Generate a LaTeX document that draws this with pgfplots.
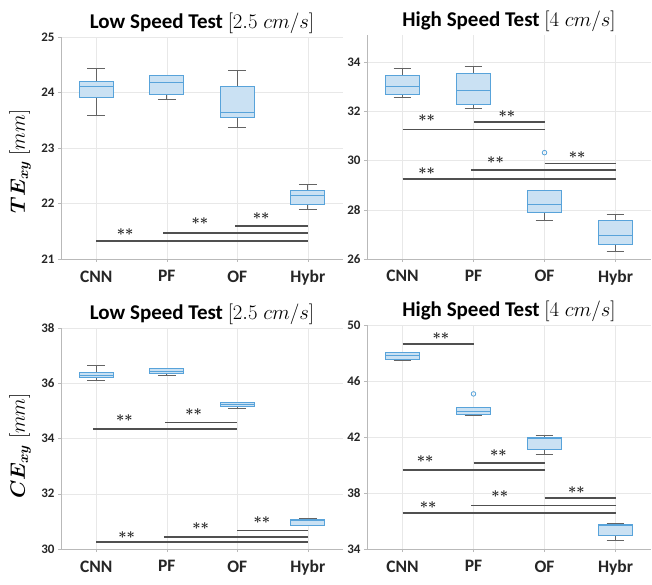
\documentclass[border=0pt]{standalone}
\usepackage{pgfplots}
\pgfplotsset{compat=1.18}
\usepgfplotslibrary{statistics}
\usepackage{bm}
\usepackage{fontspec}
\setmainfont{Carlito}
\definecolor{boxfill}{RGB}{202,225,243}
\definecolor{boxedge}{RGB}{88,163,218}
\definecolor{whisk}{RGB}{100,100,100}
\definecolor{sigc}{RGB}{80,80,80}
\definecolor{txt}{RGB}{38,38,38}
\pgfplotsset{
  myax/.style={
    scale only axis, anchor=north west,
    xmin=0.5, xmax=4.5, xtick={1,2,3,4}, xticklabels={CNN,PF,OF,Hybr},
    grid=major, grid style={gray!18, line width=0.5pt},
    axis x line*=bottom, axis y line*=left,
    x axis line style={-}, y axis line style={-},
    axis line style={gray!55, line width=0.6pt},
    tick align=outside, major tick length=3pt, tick style={gray!55},
    /pgf/number format/assume math mode=true,
    x tick label style={font=\fontsize{17.5}{17.5}\selectfont\bfseries, text=txt, yshift=-5pt},
    y tick label style={font=\fontsize{13}{13}\selectfont\bfseries, text=txt},
    title style={font=\fontsize{21}{21}\selectfont\bfseries, text=black, yshift=-6pt},
    ylabel style={font=\fontsize{21}{21}\selectfont, text=black, anchor=center},
    clip=false,
    boxplot/draw direction=y,
  },
  bxstyle/.style={draw=boxedge, line width=0.8pt,
    boxplot/draw direction=y,
    boxplot/box extend=0.48, boxplot/whisker extend=0.25,
    boxplot/every box/.style={draw=boxedge, fill=boxfill, line width=0.8pt},
    boxplot/every whisker/.style={draw=whisk, line width=0.8pt},
    boxplot/every median/.style={draw=boxedge, line width=0.9pt}},
  outl/.style={mark=o, mark size=2.3pt, mark options={draw=boxedge, line width=0.8pt}},
  sig/.style={draw=sigc, line width=1.9pt},
}
\tikzset{star/.style={font=\fontsize{15}{15}\selectfont, text=black!85, inner sep=0pt}}
\newcommand{\bx}[6]{\addplot[bxstyle, boxplot prepared={draw position=#1, lower whisker=#2, lower quartile=#3, median=#4, upper quartile=#5, upper whisker=#6}] coordinates {};}
\newcommand{\stars}{{\boldmath$\ast\ast$}}
\begin{document}
\begin{tikzpicture}
\path[use as bounding box] (0,0) rectangle (652pt,-585pt);
% ---------------- top left
\begin{axis}[myax, at={(61pt,-37pt)}, width=282pt, height=222pt,
  ymin=21, ymax=25, ytick={21,22,23,24,25},
  title={Low Speed Test $[2.5\;cm/s]$},
  ylabel={$\bm{TE}_{\bm{xy}}\;[mm]$},
  ylabel style={at={(axis description cs:-0.145,0.44)}}]
\bx{1}{23.59}{23.92}{24.11}{24.20}{24.43}
\bx{2}{23.88}{23.97}{24.19}{24.31}{24.31}
\bx{3}{23.38}{23.56}{23.64}{24.11}{24.39}
\bx{4}{21.90}{21.99}{22.14}{22.23}{22.35}
\addplot[sig] coordinates {(1,21.32) (4,21.32)};
\addplot[sig] coordinates {(1.95,21.47) (4,21.47)};
\addplot[sig] coordinates {(2.97,21.60) (4,21.60)};
\node[star] at (axis cs:1.41,21.48) {\stars};
\node[star] at (axis cs:2.47,21.68) {\stars};
\node[star] at (axis cs:3.34,21.77) {\stars};
\end{axis}
% ---------------- top right
\begin{axis}[myax, at={(367pt,-35pt)}, width=284pt, height=224pt,
  ymin=26, ymax=35.1, ytick={26,28,30,32,34},
  title={High Speed Test $[4\;cm/s]$}]
\bx{1}{32.56}{32.69}{33.01}{33.46}{33.73}
\bx{2}{32.11}{32.27}{32.83}{33.53}{33.84}
\addplot[bxstyle, outl, boxplot prepared={draw position=3, lower whisker=27.56, lower quartile=27.90, median=28.20, upper quartile=28.80, upper whisker=28.80}] table[row sep=\\, y index=0] {30.32\\};
\bx{4}{26.31}{26.58}{26.97}{27.56}{27.83}
\addplot[sig] coordinates {(1,31.26) (3.01,31.26)};
\addplot[sig] coordinates {(2.01,31.56) (3.01,31.56)};
\addplot[sig] coordinates {(1,29.26) (4,29.26)};
\addplot[sig] coordinates {(1.97,29.61) (4,29.61)};
\addplot[sig] coordinates {(3,29.88) (4,29.88)};
\node[star] at (axis cs:1.34,31.71) {\stars};
\node[star] at (axis cs:2.47,31.87) {\stars};
\node[star] at (axis cs:1.34,29.59) {\stars};
\node[star] at (axis cs:2.31,30.02) {\stars};
\node[star] at (axis cs:3.46,30.22) {\stars};
\end{axis}
% ---------------- bottom left
\begin{axis}[myax, at={(61pt,-328pt)}, width=282pt, height=221pt,
  ymin=30, ymax=38, ytick={30,32,34,36,38},
  title={Low Speed Test $[2.5\;cm/s]$},
  ylabel={$\bm{CE}_{\bm{xy}}\;[mm]$},
  ylabel style={at={(axis description cs:-0.145,0.466)}}]
\bx{1}{36.09}{36.21}{36.29}{36.40}{36.64}
\bx{2}{36.27}{36.35}{36.44}{36.52}{36.52}
\bx{3}{35.10}{35.15}{35.23}{35.29}{35.29}
\bx{4}{30.86}{30.86}{31.05}{31.08}{31.12}
\addplot[sig] coordinates {(0.96,34.33) (3,34.33)};
\addplot[sig] coordinates {(1.98,34.58) (3,34.58)};
\addplot[sig] coordinates {(1,30.24) (4,30.24)};
\addplot[sig] coordinates {(1.96,30.42) (4,30.42)};
\addplot[sig] coordinates {(3,30.67) (4,30.67)};
\node[star] at (axis cs:1.40,34.73) {\stars};
\node[star] at (axis cs:2.38,34.94) {\stars};
\node[star] at (axis cs:1.43,30.52) {\stars};
\node[star] at (axis cs:2.48,30.82) {\stars};
\node[star] at (axis cs:3.35,31.06) {\stars};
\end{axis}
% ---------------- bottom right
\begin{axis}[myax, at={(367pt,-325pt)}, width=284pt, height=224pt,
  ymin=34, ymax=50, ytick={34,38,42,46,50},
  title={High Speed Test $[4\;cm/s]$}]
\bx{1}{47.50}{47.57}{47.79}{48.03}{48.03}
\addplot[bxstyle, outl, boxplot prepared={draw position=2, lower whisker=43.53, lower quartile=43.63, median=43.82, upper quartile=44.13, upper whisker=44.13}] table[row sep=\\, y index=0] {45.08\\};
\bx{3}{40.78}{41.13}{41.90}{41.99}{42.08}
\bx{4}{34.62}{34.97}{35.71}{35.78}{35.85}
\addplot[sig] coordinates {(1,48.64) (2,48.64)};
\addplot[sig] coordinates {(1,39.66) (3,39.66)};
\addplot[sig] coordinates {(2,40.16) (3,40.16)};
\addplot[sig] coordinates {(1,36.57) (4,36.57)};
\addplot[sig] coordinates {(1.97,37.11) (4,37.11)};
\addplot[sig] coordinates {(3,37.64) (4,37.64)};
\node[star] at (axis cs:1.54,49.24) {\stars};
\node[star] at (axis cs:1.32,40.42) {\stars};
\node[star] at (axis cs:2.35,40.85) {\stars};
\node[star] at (axis cs:1.36,37.11) {\stars};
\node[star] at (axis cs:2.37,37.92) {\stars};
\node[star] at (axis cs:3.45,38.23) {\stars};
\end{axis}
\end{tikzpicture}
\end{document}
